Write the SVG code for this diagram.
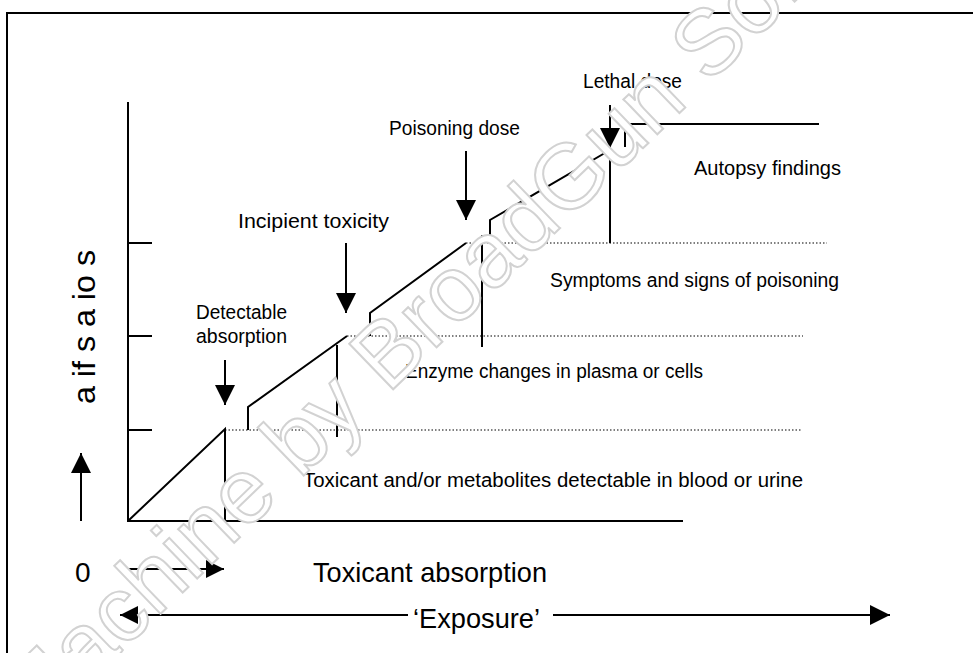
<svg xmlns="http://www.w3.org/2000/svg" width="973" height="653" viewBox="0 0 973 653">
<style>
text{font-family:"Liberation Sans",Arial,sans-serif;fill:#000}
.lab{font-size:20px}
.big{font-size:28px}
.ln{stroke:#000;stroke-width:2;fill:none}
.dot{stroke:#000;stroke-width:1.2;stroke-dasharray:1.5 2;fill:none}
.arr{stroke:#000;stroke-width:2;fill:none;marker-end:url(#ah)}
.arrs{stroke:#000;stroke-width:2;fill:none;marker-end:url(#ahs)}
.wm{font-size:92px;fill:#fff;stroke:#d2d2d2;stroke-width:2}
</style>
<defs>
<marker id="ah" markerUnits="userSpaceOnUse" viewBox="0 0 20 20" markerWidth="20" markerHeight="20" refX="20" refY="10" orient="auto"><path d="M0,0 L20,10 L0,20 z" fill="#000"/></marker>
<marker id="ahs" markerUnits="userSpaceOnUse" viewBox="0 0 20 20" markerWidth="18" markerHeight="18" refX="20" refY="10" orient="auto"><path d="M0,0 L20,10 L0,20 z" fill="#000"/></marker>
</defs>
<rect x="0" y="0" width="973" height="653" fill="#fff"/>
<rect x="7" y="13" width="990" height="680" fill="none" stroke="#000" stroke-width="2"/>

<g id="connectors">
<line class="ln" x1="128" y1="102" x2="128" y2="522"/>
<line class="ln" x1="127" y1="521" x2="683" y2="521"/>
<line class="ln" x1="128" y1="243" x2="152" y2="243"/>
<line class="ln" x1="128" y1="336" x2="152" y2="336"/>
<line class="ln" x1="128" y1="430" x2="152" y2="430"/>
<line class="dot" x1="225" y1="430" x2="802" y2="430"/>
<line class="dot" x1="347" y1="336" x2="803" y2="336"/>
<line class="dot" x1="466" y1="243" x2="827" y2="243"/>
<polyline class="ln" points="128,521 225,429 225,521"/>
<polyline class="ln" points="248,430 248,407 347,336"/>
<line class="ln" x1="337" y1="345" x2="337" y2="437"/>
<polyline class="ln" points="370,336 370,313 466,243"/>
<line class="ln" x1="482" y1="235" x2="482" y2="347"/>
<polyline class="ln" points="490,243 490,220 610,150"/>
<line class="ln" x1="610" y1="146" x2="610" y2="243"/>
<polyline class="ln" points="625,147 625,124 819,124"/>
<line class="arr" x1="466" y1="151" x2="466" y2="220"/>
<line class="arr" x1="346" y1="243" x2="346" y2="313"/>
<line class="arr" x1="225" y1="360" x2="225" y2="405"/>
<line class="arr" x1="610" y1="105" x2="610" y2="148"/>
<line class="arr" x1="81" y1="521" x2="81" y2="453"/>
<line class="arrs" x1="128" y1="569" x2="224" y2="569"/>
<line class="arrs" x1="408" y1="615" x2="120" y2="615"/>
<line class="arr" x1="553" y1="615" x2="890" y2="615"/>
</g>

<g id="lethal-dose"><text class="lab" x="583" y="88" textLength="99" lengthAdjust="spacingAndGlyphs">Lethal dose</text></g>
<g id="poisoning-dose"><text class="lab" x="389" y="135" textLength="131" lengthAdjust="spacingAndGlyphs">Poisoning dose</text></g>
<g id="incipient-toxicity"><text class="lab" x="238" y="228" textLength="151" lengthAdjust="spacingAndGlyphs">Incipient toxicity</text></g>
<g id="detectable-absorption">
<text class="lab" x="196" y="319" textLength="91" lengthAdjust="spacingAndGlyphs">Detectable</text>
<text class="lab" x="196" y="343" textLength="91" lengthAdjust="spacingAndGlyphs">absorption</text>
</g>
<g id="autopsy-findings"><text class="lab" x="694" y="175" textLength="147" lengthAdjust="spacingAndGlyphs">Autopsy findings</text></g>
<g id="symptoms"><text class="lab" x="550" y="287" textLength="289" lengthAdjust="spacingAndGlyphs">Symptoms and signs of poisoning</text></g>
<g id="enzyme"><text class="lab" x="405" y="378" textLength="298" lengthAdjust="spacingAndGlyphs">Enzyme changes in plasma or cells</text></g>
<g id="toxicant-detectable"><text class="lab" x="303" y="487" textLength="500" lengthAdjust="spacingAndGlyphs">Toxicant and/or metabolites detectable in blood or urine</text></g>
<g id="y-label"><text font-size="32" transform="translate(95,404) rotate(-90)" textLength="154" lengthAdjust="spacingAndGlyphs">a if s a io s</text></g>
<g id="zero"><text class="big" x="75" y="582">0</text></g>
<g id="toxicant-absorption"><text class="big" x="313" y="582" textLength="234" lengthAdjust="spacingAndGlyphs">Toxicant absorption</text></g>
<g id="exposure"><text class="big" x="413" y="628" textLength="127" lengthAdjust="spacingAndGlyphs">‘Exposure’</text></g>

<g id="watermark"><text class="wm" transform="translate(31,739) rotate(-44)">Machine by BroadGun Software</text></g>
</svg>
